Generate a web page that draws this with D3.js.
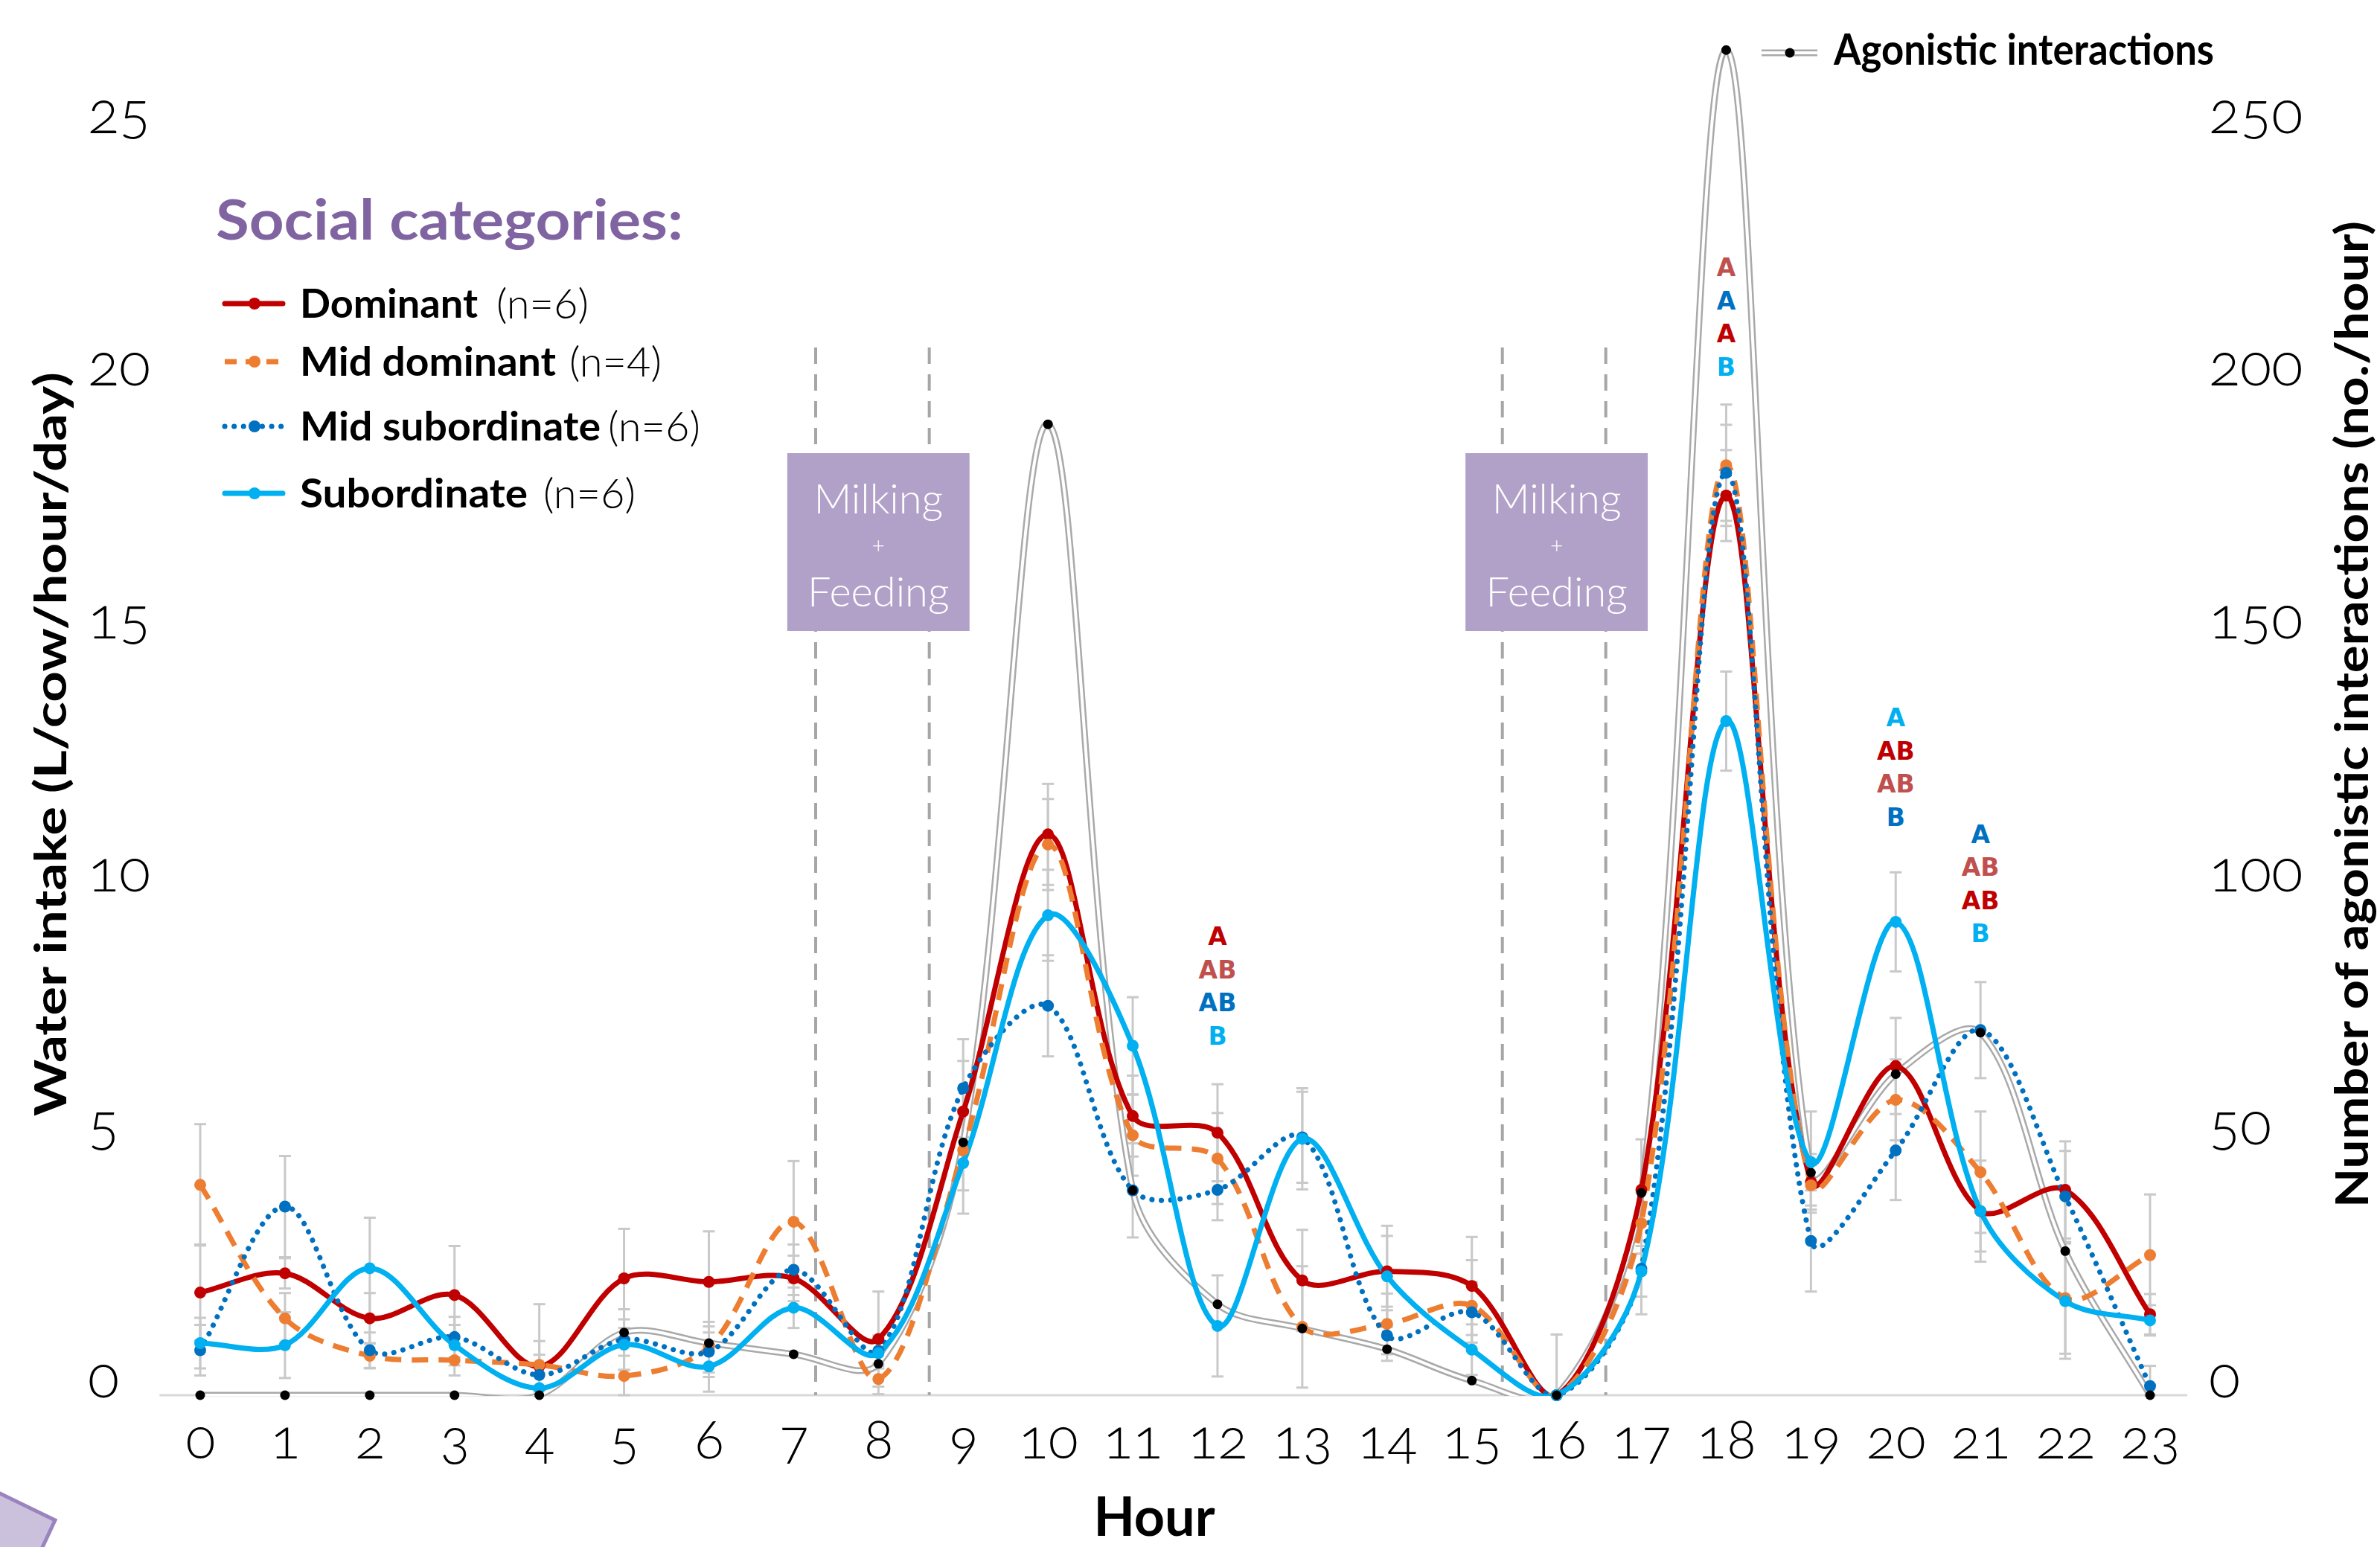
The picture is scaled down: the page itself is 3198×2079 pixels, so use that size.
<!DOCTYPE html>
<html>
<head>
<meta charset="utf-8">
<script src="https://cdn.jsdelivr.net/npm/d3@7"></script>
<style>
  html, body { margin: 0; padding: 0; background: #fff; }
  svg { display: block; }
</style>
</head>
<body>
<svg id="chart" width="3198" height="2079"></svg>
<script>
// ---------------- DATA ----------------
const hours = [0,1,2,3,4,5,6,7,8,9,10,11,12,13,14,15,16,17,18,19,20,21,22,23];

const dominant       = [2.03,2.41,1.52,1.98,0.57,2.31,2.24,2.31,1.11,5.61,11.09,5.52,5.19,2.27,2.45,2.16,0,4.06,17.79,4.22,6.51,3.64,4.06,1.60];
const midDominant    = [4.16,1.52,0.78,0.69,0.60,0.38,0.95,3.43,0.32,4.85,10.89,5.14,4.68,1.35,1.41,1.77,0,3.40,18.39,4.15,5.84,4.41,1.92,2.77];
const midSubordinate = [0.89,3.73,0.89,1.15,0.40,1.10,0.86,2.48,0.88,6.07,7.70,4.05,4.06,5.10,1.18,1.64,0,2.50,18.24,3.05,4.84,7.22,3.93,0.18];
const subordinate    = [1.03,0.99,2.51,0.99,0.14,1.00,0.57,1.73,0.83,4.59,9.49,6.91,1.37,5.07,2.35,0.90,0,2.45,13.33,4.61,9.36,3.64,1.86,1.48];

const dominantErr       = [0.95,0.30,0.50,0.97,0.50,0.98,1.00,0.45,0.94,1.00,1.00,0.80,0.96,1.00,0.70,0.97,1.20,1.00,0.90,0.55,0.95,0.80,0.96,0.40];
const midDominantErr    = [1.20,0.50,0.25,0.30,1.20,0.40,0.50,1.20,0.30,0.80,0.90,0.80,0.90,1.20,0.60,0.90,0,0.60,1.20,0.40,0.80,1.20,1.10,1.20];
const midSubordinateErr = [0.50,1.00,0.35,0.40,0.40,0.60,0.50,0.50,0.30,0.97,1.00,0.93,0.60,0.90,0.50,0.60,0,0.90,0.95,1.00,0.98,0.95,0.90,0.40];
const subordinateErr    = [0.50,0.65,1.00,0.40,0.30,0.50,0.50,0.40,0.30,1.00,0.90,0.96,1.00,1.00,1.00,0.50,0,0.50,0.98,1.00,0.98,1.00,1.14,0.30];

const agonistic = [0,0,0,0,0,12.4,10.3,8.1,6.2,50,192,40.5,18,13.2,9.1,2.9,0,40,266,44,63.5,71.7,28.5,0];

const seriesNames = ["Dominant","Mid dominant","Mid subordinate","Subordinate"];
const seriesN     = ["(n=6)","(n=4)","(n=6)","(n=6)"];

const leftTicks  = [0,5,10,15,20,25];
const rightTicks = [0,50,100,150,200,250];

const milkingLines   = [7.26, 8.6, 15.36, 16.58];
const milkingCenters = [8, 16];
const milkingLabel   = ["Milking", "+", "Feeding"];

const sigHours   = [12, 18, 20, 21];
const sigTop     = [9.07, 22.3, 13.4, 11.1];
const sigLetters = [["A","AB","AB","B"],["A","A","A","B"],["A","AB","AB","B"],["A","AB","AB","B"]];
const sigColorKeys = [["dr","lr","bl","cy"],["lr","bl","dr","cy"],["cy","dr","lr","bl"],["bl","lr","dr","cy"]];

// ---------------- STYLE ----------------
const COLORS = { dr: "#C00000", lr: "#C0504D", bl: "#0070C0", cy: "#00B0F0", or: "#ED7D31" };
const seriesStyle = [
  { color: COLORS.dr, dash: null, cap: "round" },
  { color: COLORS.or, dash: "22 14", cap: "butt" },
  { color: COLORS.bl, dash: "0.1 12.5", cap: "round" },
  { color: COLORS.cy, dash: null, cap: "round" }
];
const seriesValues = [dominant, midDominant, midSubordinate, subordinate];
const seriesErrors = [dominantErr, midDominantErr, midSubordinateErr, subordinateErr];

// Excel-like smoothed curve: Bezier control points along (P[i+1]-P[i-1]),
// scaled by relative segment lengths.
function ExcelSmooth(context) { this._context = context; }
ExcelSmooth.prototype = {
  areaStart() { this._line = 0; },
  areaEnd() { this._line = NaN; },
  lineStart() { this._pts = []; },
  point(x, y) { this._pts.push([+x, +y]); },
  lineEnd() {
    const p = this._pts, n = p.length, c = this._context;
    if (!n) return;
    c.moveTo(p[0][0], p[0][1]);
    if (n === 1) return;
    const dist = (a, b) => Math.hypot(b[0] - a[0], b[1] - a[1]);
    const tangent = i => {
      const a = p[Math.max(0, i - 1)], b = p[Math.min(n - 1, i + 1)];
      return [b[0] - a[0], b[1] - a[1]];
    };
    for (let i = 0; i < n - 1; i++) {
      const P0 = p[i], P1 = p[i + 1];
      const d = dist(P0, P1);
      // outgoing control at i
      let c1;
      if (i === 0) c1 = [P0[0] + (P1[0] - P0[0]) / 3, P0[1] + (P1[1] - P0[1]) / 3];
      else {
        const t = tangent(i), dp = dist(p[i - 1], P0), f = d / (dp + d) / 3;
        c1 = [P0[0] + t[0] * f, P0[1] + t[1] * f];
      }
      let c2;
      if (i + 1 === n - 1) c2 = [P1[0] - (P1[0] - P0[0]) / 3, P1[1] - (P1[1] - P0[1]) / 3];
      else {
        const t = tangent(i + 1), dn = dist(P1, p[i + 2]), f = d / (d + dn) / 3;
        c2 = [P1[0] - t[0] * f, P1[1] - t[1] * f];
      }
      c.bezierCurveTo(c1[0], c1[1], c2[0], c2[1], P1[0], P1[1]);
    }
  }
};
const curve = ctx => new ExcelSmooth(ctx);

const svg = d3.select("#chart");

const x  = d3.scaleLinear().domain([0, 23]).range([269, 2889]);
const yL = d3.scaleLinear().domain([0, 25]).range([1875, 176]);
const yR = d3.scaleLinear().domain([0, 250]).range([1875, 176]);

// clip for lines at the plot bottom
svg.append("defs").append("clipPath").attr("id", "plotClip")
  .append("rect").attr("x", 0).attr("y", 0).attr("width", 3198).attr("height", yL(0) + 1);

// corner decoration
svg.append("polygon")
  .attr("points", [[-80,1968],[74,2043],[38,2120],[-110,2060]].map(p => p.join(",")).join(" "))
  .attr("fill", "#CBC1DD").attr("stroke", "#9A84BE").attr("stroke-width", 5);

// baseline
svg.append("line")
  .attr("x1", x(-0.48)).attr("x2", x(23.44))
  .attr("y1", yL(0)).attr("y2", yL(0))
  .attr("stroke", "#D9D9D9").attr("stroke-width", 3);

// milking dashed lines
svg.append("g").selectAll("line").data(milkingLines).join("line")
  .attr("x1", d => x(d)).attr("x2", d => x(d))
  .attr("y1", 467).attr("y2", yL(0))
  .attr("stroke", "#A6A6A6").attr("stroke-width", 4).attr("stroke-dasharray", "22 14");

// milking boxes
const boxW = x(2.15) - x(0);
const mg = svg.append("g").selectAll("g").data(milkingCenters).join("g")
  .attr("transform", d => `translate(${x(d)},0)`);
mg.append("rect")
  .attr("x", -boxW/2).attr("y", 609).attr("width", boxW).attr("height", 239)
  .attr("fill", "#B1A1C8");
mg.selectAll("text").data(milkingLabel).join("text")
  .attr("x", 0)
  .attr("y", (d, i) => [690, 744, 815][i])
  .attr("text-anchor", "middle")
  .attr("fill", "#fff")
  .attr("font-family", "Lato, 'Noto Sans', sans-serif")
  .attr("font-weight", 300)
  .attr("font-size", (d, i) => i === 1 ? 30 : 56)
  .text(d => d);

// error bars
const errG = svg.append("g");
seriesValues.forEach((vals, si) => {
  const errs = seriesErrors[si];
  hours.forEach((h, i) => {
    const e = errs[i];
    if (!e) return;
    const lo = Math.max(0, vals[i] - e), hi = vals[i] + e;
    errG.append("line").attr("x1", x(h)).attr("x2", x(h)).attr("y1", yL(lo)).attr("y2", yL(hi))
      .attr("stroke", "#C9C9C9").attr("stroke-width", 3);
    [lo, hi].forEach(v => errG.append("line")
      .attr("x1", x(h) - 8).attr("x2", x(h) + 8).attr("y1", yL(v)).attr("y2", yL(v))
      .attr("stroke", "#C9C9C9").attr("stroke-width", 3));
  });
});

const linesG = svg.append("g").attr("clip-path", "url(#plotClip)");

// agonistic line (double line)
const agLine = d3.line().x((d, i) => x(hours[i])).y(d => yR(d)).curve(curve);
linesG.append("path").attr("d", agLine(agonistic)).attr("fill", "none")
  .attr("stroke", "#A9A9A9").attr("stroke-width", 9);
linesG.append("path").attr("d", agLine(agonistic)).attr("fill", "none")
  .attr("stroke", "#fff").attr("stroke-width", 4);

// series lines
seriesValues.forEach((vals, si) => {
  const st = seriesStyle[si];
  const line = d3.line().x((d, i) => x(hours[i])).y(d => yL(d)).curve(curve);
  linesG.append("path").attr("d", line(vals)).attr("fill", "none")
    .attr("stroke", st.color).attr("stroke-width", 7)
    .attr("stroke-linecap", st.cap)
    .attr("stroke-dasharray", st.dash);
});
// series markers
seriesValues.forEach((vals, si) => {
  svg.append("g").selectAll("circle").data(vals).join("circle")
    .attr("cx", (d, i) => x(hours[i])).attr("cy", d => yL(d)).attr("r", 8)
    .attr("fill", seriesStyle[si].color);
});
// agonistic markers
svg.append("g").selectAll("circle").data(agonistic).join("circle")
  .attr("cx", (d, i) => x(hours[i])).attr("cy", d => yR(d)).attr("r", 6.5)
  .attr("fill", "#000");

// significance letters
sigHours.forEach((h, k) => {
  svg.append("g").selectAll("text").data(sigLetters[k]).join("text")
    .attr("x", x(h)).attr("y", (d, i) => yL(sigTop[k]) + i * 44.5)
    .attr("dy", "0.36em")
    .attr("text-anchor", "middle")
    .attr("font-family", "'DejaVu Sans', sans-serif")
    .attr("font-weight", "bold")
    .attr("font-size", 33)
    .attr("fill", (d, i) => COLORS[sigColorKeys[k][i]])
    .text(d => d);
});

// axes
const tickFont = "Lato, 'Noto Sans', sans-serif";
const xAxis = svg.append("g").attr("transform", `translate(0,1960)`)
  .call(d3.axisBottom(x).tickValues(hours).tickSize(0).tickFormat(d3.format("d")));
xAxis.select(".domain").remove();
xAxis.selectAll("text").attr("y", 0).attr("dy", 0)
  .attr("font-family", tickFont).attr("font-weight", 300).attr("font-size", 74).attr("fill", "#000")
  .style("font-variant-numeric", "oldstyle-nums");

const lAxis = svg.append("g").attr("transform", `translate(118,2)`)
  .call(d3.axisLeft(yL).tickValues(leftTicks).tickSize(0));
lAxis.select(".domain").remove();
lAxis.selectAll("text").attr("x", 0).attr("text-anchor", "start").attr("dy", 0)
  .attr("font-family", tickFont).attr("font-weight", 300).attr("font-size", 78).attr("fill", "#000")
  .style("font-variant-numeric", "oldstyle-nums");

const rAxis = svg.append("g").attr("transform", `translate(2968,2)`)
  .call(d3.axisRight(yR).tickValues(rightTicks).tickSize(0));
rAxis.select(".domain").remove();
rAxis.selectAll("text").attr("x", 0).attr("text-anchor", "start").attr("dy", 0)
  .attr("font-family", tickFont).attr("font-weight", 300).attr("font-size", 78).attr("fill", "#000")
  .style("font-variant-numeric", "oldstyle-nums");

// axis titles
const boldFont = "Lato, 'Noto Sans', sans-serif";
svg.append("text")
  .attr("transform", "translate(67,1000) rotate(-90)")
  .attr("text-anchor", "middle").attr("dy", "0.36em")
  .attr("font-family", boldFont).attr("font-weight", "bold").attr("font-size", 60)
  .attr("textLength", 1000).attr("lengthAdjust", "spacingAndGlyphs")
  .text("Water intake (L/cow/hour/day)");
svg.append("text")
  .attr("transform", "translate(3160,960) rotate(-90)")
  .attr("text-anchor", "middle").attr("dy", "0.36em")
  .attr("font-family", boldFont).attr("font-weight", "bold").attr("font-size", 62)
  .attr("textLength", 1326).attr("lengthAdjust", "spacingAndGlyphs")
  .text("Number of agonistic interactions (no./hour)");
svg.append("text")
  .attr("x", 1551).attr("y", 2064)
  .attr("text-anchor", "middle")
  .attr("font-family", boldFont).attr("font-weight", "bold").attr("font-size", 72)
  .text("Hour");

// legend
svg.append("text")
  .attr("x", 290).attr("y", 322)
  .attr("font-family", boldFont).attr("font-weight", "bold").attr("font-size", 74)
  .attr("fill", "#8064A2")
  .attr("textLength", 628).attr("lengthAdjust", "spacingAndGlyphs")
  .text("Social categories:");

const legRows = [408, 486, 573, 663];
const legBoldW = [239, 344, 404, 306];
const legNX = [667, 765, 817, 730];
seriesNames.forEach((name, i) => {
  const g = svg.append("g").attr("transform", `translate(0,${legRows[i]})`);
  const st = seriesStyle[i];
  g.append("line").attr("x1", 302).attr("x2", 380).attr("y1", 0).attr("y2", 0)
    .attr("stroke", st.color).attr("stroke-width", 7)
    .attr("stroke-dasharray", i === 1 ? "16 12" : (i === 2 ? "0.1 12.5" : null))
    .attr("stroke-linecap", st.cap);
  g.append("circle").attr("cx", 342).attr("cy", 0).attr("r", 8).attr("fill", st.color);
  g.append("text").attr("x", 403).attr("y", 0).attr("dy", "0.36em")
    .attr("font-family", boldFont).attr("font-weight", "bold").attr("font-size", 54)
    .attr("textLength", legBoldW[i]).attr("lengthAdjust", "spacingAndGlyphs")
    .text(name);
  g.append("text").attr("x", legNX[i]).attr("y", 0).attr("dy", "0.36em")
    .attr("font-family", tickFont).attr("font-weight", 300).attr("font-size", 56)
    .text(seriesN[i]);
});

// agonistic legend
const ag = svg.append("g").attr("transform", "translate(0,71)");
ag.append("line").attr("x1", 2367).attr("x2", 2442).attr("y1", 0).attr("y2", 0)
  .attr("stroke", "#A9A9A9").attr("stroke-width", 9);
ag.append("line").attr("x1", 2367).attr("x2", 2442).attr("y1", 0).attr("y2", 0)
  .attr("stroke", "#fff").attr("stroke-width", 4);
ag.append("circle").attr("cx", 2405).attr("cy", 0).attr("r", 6.5).attr("fill", "#000");
ag.append("text").attr("x", 2464).attr("y", -5).attr("dy", "0.36em")
  .attr("font-family", boldFont).attr("font-weight", "bold").attr("font-size", 58)
  .attr("textLength", 511).attr("lengthAdjust", "spacingAndGlyphs")
  .text("Agonistic interactions");
</script>
</body>
</html>
